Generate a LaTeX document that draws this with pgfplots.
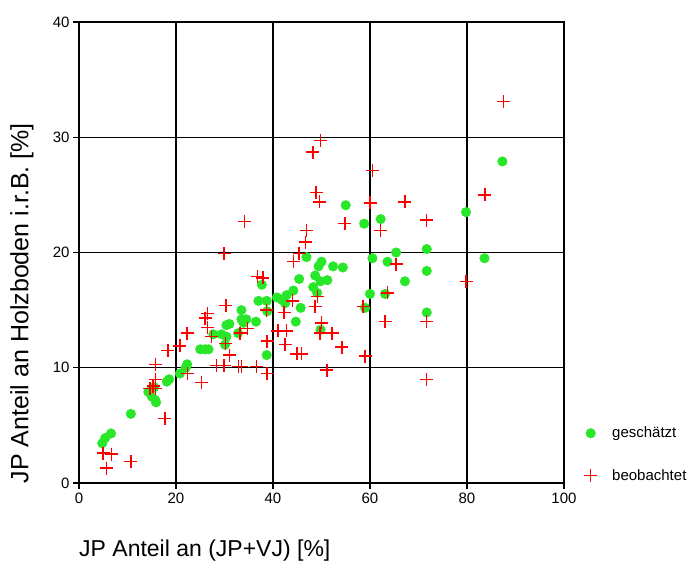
\documentclass[border=0pt]{standalone}
\usepackage{fontspec}
\setmainfont{Liberation Sans}
\usepackage{pgfplots}
\pgfplotsset{compat=1.18}
\definecolor{gruen}{RGB}{40,230,40}

\begin{document}
\begin{tikzpicture}
\begin{axis}[
    width=485pt, height=461pt, scale only axis,
    xmin=0, xmax=100, ymin=0, ymax=40,
    xtick={0,20,40,60,80,100},
    ytick={0,10,20,30,40},
    grid=major,
    grid style={black, line width=1.2pt},
    axis line style={black, line width=1.6pt},
    tick style={black, line width=1.2pt},
    tick align=outside, tick pos=left,
    major tick length=6pt,
    /pgf/number format/assume math mode=true,
    ticklabel style={font=\fontsize{15}{17}\selectfont},
    xlabel={JP Anteil an (JP+VJ) [\%]},
    ylabel={JP Anteil an Holzboden i.r.B. [\%]},
    xlabel style={font=\fontsize{23}{26}\selectfont, at={(rel axis cs:0,0)}, anchor=north west, inner sep=0pt, yshift=-57pt},
    ylabel style={font=\fontsize{25}{28}\selectfont, at={(rel axis cs:0,0.39)}, anchor=center, inner sep=0pt, yshift=57pt},
    legend style={at={(rel axis cs:1,0)}, anchor=south west, xshift=20pt, yshift=-3pt,
        inner xsep=0pt, draw=none, fill=none, font=\fontsize{15}{18}\selectfont,
        row sep=26pt, legend cell align=left,
        /tikz/every odd column/.append style={column sep=13pt}},
    clip=false,
]
% geschaetzt
\addplot[only marks, mark=*, mark size=4.8pt, color=gruen, mark options={fill=gruen, draw=gruen}]
coordinates {
(4.8,3.45) (5.4,3.9) (6.6,4.3) (10.7,6.0)
(14.3,7.9) (15.0,7.5) (15.7,7.2) (15.9,7.0) (15.5,8.3)
(18.1,8.8) (18.6,9.0) (20.8,9.5) (22.3,10.3) (22.0,10.0)
(25.0,11.6) (26.0,11.6) (26.7,11.6) (27.7,12.9) (29.4,12.9)
(30.1,12.0) (30.4,12.7) (30.4,13.7) (31.0,13.8) (32.8,13.0)
(33.5,15.0) (33.9,13.9) (33.5,14.2) (34.5,14.2) (36.5,14.0)
(37.0,15.8) (37.7,17.2) (38.7,15.8) (38.8,14.9) (38.7,11.1)
(40.8,16.1) (41.8,15.9) (42.5,15.6) (42.8,16.3) (44.2,16.7)
(44.7,14.0) (45.4,17.7) (45.7,15.2) (46.9,19.6) (48.3,17.0)
(48.7,18.0) (49.1,16.5) (49.4,18.8) (49.8,17.5) (49.8,13.3)
(50.0,19.2) (51.2,17.6) (52.4,18.8) (54.4,18.7) (55.0,24.1)
(58.8,22.5) (59.0,15.2) (60.0,16.4) (60.5,19.5) (62.2,22.9)
(63.1,16.4) (63.6,19.2) (65.4,20.0) (67.2,17.5) (71.7,20.3)
(71.7,18.4) (71.7,14.8) (79.8,23.5) (83.6,19.5) (87.3,27.9)
};
% beobachtet
\addplot[only marks, mark=+, mark size=6.5pt, red, mark options={solid, line width=1.5pt, draw=red}]
coordinates {
(5.0,2.6) (6.7,2.5) (5.7,1.3) (10.7,1.85) (17.7,5.6)
(14.6,8.2) (15.3,8.4) (15.8,8.2) (15.8,9.0) (15.8,10.3)
(18.3,11.5) (20.8,11.9) (22.3,13.0) (22.4,9.5) (25.3,8.7)
(26.0,14.3) (26.5,14.7) (26.5,13.5) (27.3,12.7) (28.4,10.2)
(29.9,10.2) (29.9,19.9) (30.2,12.1) (30.3,15.4) (31.0,11.1)
(32.9,10.1) (33.5,10.1) (33.2,13.0) (34.7,13.4) (34.1,22.7)
(36.6,10.1) (36.8,17.9) (37.9,17.8) (38.7,15.0) (38.8,12.3)
(38.8,9.5) (41.0,13.2) (42.3,14.8) (42.5,12.0) (42.8,13.2)
(44.0,15.8) (44.2,19.2) (44.9,11.2) (45.9,11.2) (45.4,19.9)
(46.7,20.9) (46.9,21.9) (48.2,28.7) (48.9,25.2) (49.2,16.2)
(48.7,15.3) (49.6,24.4) (49.7,13.0) (49.8,29.7) (50.0,13.9)
(51.1,9.8) (52.2,13.0) (54.2,11.8) (54.8,22.5) (58.6,15.3)
(59.0,11.0) (60.0,24.3) (60.5,27.1) (62.2,21.9) (63.1,14.0)
(63.6,16.5) (65.4,19.0) (67.2,24.4) (71.7,22.8) (71.7,14.0)
(71.7,9.0) (79.8,17.5) (83.7,25.0) (87.5,33.1)
};
\legend{geschätzt, beobachtet}
\end{axis}
\path ([shift={(-79pt,-80pt)}]current axis.south west) rectangle ([shift={(127pt,22pt)}]current axis.north east);
\end{tikzpicture}
\end{document}
